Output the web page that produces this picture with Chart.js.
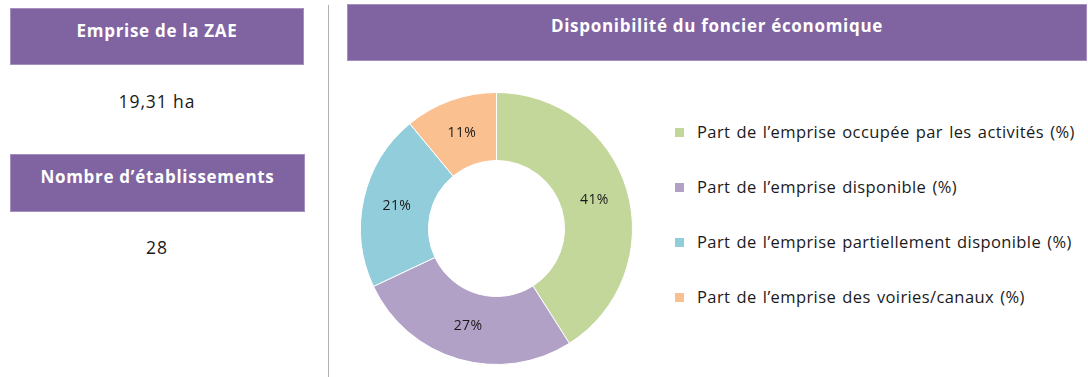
<!DOCTYPE html>
<html lang="fr">
<head>
<meta charset="UTF-8">
<title>Disponibilité du foncier économique</title>
<script src="https://cdn.jsdelivr.net/npm/chart.js"></script>
<style>
    body {
        margin: 0;
        width: 1088px;
        height: 377px;
        background: #fff;
        font-family: 'Open Sans', Lato, sans-serif;
        color: #1a1a1a;
        position: relative;
        overflow: hidden;
    }
    .bandeau {
        position: absolute;
        background: #8064a2;
        border: 1px solid #a48fc0;
        box-sizing: border-box;
        color: #fff;
        font-weight: bold;
        font-size: 17px;
        letter-spacing: 0.7px;
        text-align: center;
        padding-top: 10px;
    }
    .valeur {
        position: absolute;
        width: 294px;
        left: 10px;
        text-align: center;
        font-size: 17.5px;
        letter-spacing: 0.9px;
    }
    .separateur {
        position: absolute;
        left: 328px;
        top: 5px;
        width: 1px;
        height: 372px;
        background: #b0b0b0;
    }
    #zone-donut {
        position: absolute;
        left: 360px;
        top: 92px;
        width: 273px;
        height: 273px;
    }
    #legende {
        position: absolute;
        left: 670px;
        top: 120px;
        margin: 0;
        padding: 0;
        list-style: none;
        font-size: 16.5px;
        letter-spacing: 0.4px;
        word-spacing: 1.5px;
    }
    #legende li {
        height: 55px;
        display: flex;
        align-items: flex-start;
        white-space: pre;
    }
    #legende span.carre {
        display: inline-block;
        width: 9px;
        height: 9px;
        margin: 8px 13px 0 5px;
    }
</style>
</head>
<body>
    <div class="bandeau" style="left:10px;top:8px;width:294px;height:57px;">Emprise de la ZAE</div>
    <div class="valeur" style="top:89px;">19,31 ha</div>
    <div class="bandeau" style="left:10px;top:154px;width:295px;height:58px;">Nombre d’établissements</div>
    <div class="valeur" style="top:235px;">28</div>
    <div class="separateur"></div>
    <div class="bandeau" style="left:347px;top:4px;width:740px;height:57px;padding-top:9px;">Disponibilité du foncier économique</div>

    <div id="zone-donut"><canvas id="donut"></canvas></div>
    <ul id="legende"></ul>

<script>
    // Répartition de l'emprise de la ZAE (%)
    const categories = [
        'Part de l’emprise occupée par les activités (%)',
        'Part de l’emprise disponible (%)',
        'Part de l’emprise partiellement disponible (%)',
        'Part de l’emprise des voiries/canaux (%)'
    ];
    const parts = [41, 27, 21, 11];
    const couleurs = ['#c4d79b', '#b2a1c7', '#92cddc', '#fac090'];

    // étiquettes de pourcentage au milieu de chaque secteur
    const etiquettesPct = {
        id: 'etiquettesPct',
        afterDatasetsDraw(chart) {
            const ctx = chart.ctx;
            const meta = chart.getDatasetMeta(0);
            ctx.save();
            ctx.font = '14px "Open Sans", sans-serif';
            ctx.letterSpacing = '0.4px';
            ctx.fillStyle = '#1a1a1a';
            ctx.textAlign = 'center';
            ctx.textBaseline = 'middle';
            meta.data.forEach((arc, i) => {
                const p = arc.tooltipPosition();
                ctx.fillText(chart.data.datasets[0].data[i] + '%', p.x, p.y);
            });
            ctx.restore();
        }
    };

    new Chart(document.getElementById('donut'), {
        type: 'doughnut',
        data: {
            labels: categories,
            datasets: [{
                data: parts,
                backgroundColor: couleurs,
                borderColor: '#ffffff',
                borderWidth: 1
            }]
        },
        options: {
            responsive: true,
            maintainAspectRatio: false,
            animation: false,
            cutout: '50%',
            plugins: {
                legend: { display: false },
                tooltip: { enabled: false }
            }
        },
        plugins: [etiquettesPct]
    });

    // légende à droite
    const legende = document.getElementById('legende');
    categories.forEach((nom, i) => {
        const li = document.createElement('li');
        const carre = document.createElement('span');
        carre.className = 'carre';
        carre.style.background = couleurs[i];
        li.appendChild(carre);
        li.appendChild(document.createTextNode(nom));
        legende.appendChild(li);
    });
</script>
</body>
</html>
